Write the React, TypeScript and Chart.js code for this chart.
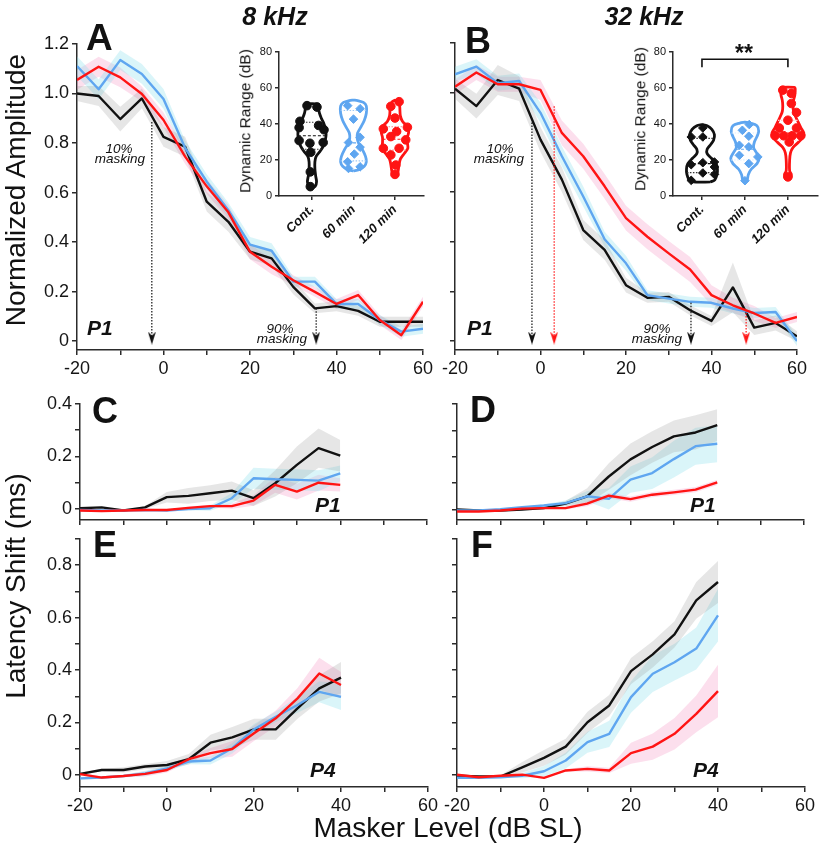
import React, { useEffect, useRef } from 'react';
import { Chart, registerables } from 'chart.js';

Chart.register(...registerables);

// ---------------- data ----------------
const LEVELS_AMP = [-20, -15, -10, -5, 0, 5, 10, 15, 20, 25, 30, 35, 40, 45, 50, 55, 60];
const LEVELS_LAT = [-20, -15, -10, -5, 0, 5, 10, 15, 20, 25, 30, 35, 40];
const X_TICKS = [-20, -10, 0, 10, 20, 30, 40, 50, 60];
const AMP_TICKS = [0, 0.2, 0.4, 0.6, 0.8, 1.0, 1.2];
const LAT_TICKS_SMALL = [0, 0.1, 0.2, 0.3, 0.4];
const LAT_TICKS_BIG = [0, 0.1, 0.2, 0.3, 0.4, 0.5, 0.6, 0.7, 0.8, 0.9];
const DR_TICKS = [0, 20, 40, 60, 80];
const GROUPS = ['Cont.', '60 min', '120 min'];
const GROUP_POS = [1, 2, 3];

// Panel A (8 kHz, P1 amplitude)
const A_CONT = [1.0, 0.99, 0.897, 0.98, 0.825, 0.785, 0.563, 0.482, 0.361, 0.334, 0.219, 0.132, 0.141, 0.122, 0.078, 0.078, 0.078];
const A_60 = [1.111, 1.017, 1.135, 1.079, 0.978, 0.78, 0.644, 0.529, 0.39, 0.365, 0.24, 0.24, 0.15, 0.15, 0.085, 0.038, 0.05];
const A_120 = [1.055, 1.108, 1.065, 0.998, 0.893, 0.745, 0.625, 0.52, 0.361, 0.3, 0.246, 0.199, 0.15, 0.186, 0.085, 0.024, 0.159];
const A_CONT_SEM = [0.03, 0.04, 0.05, 0.04, 0.04, 0.04, 0.04, 0.04, 0.03, 0.03, 0.03, 0.02, 0.02, 0.02, 0.02, 0.02, 0.02];
const A_60_SEM = [0.04, 0.04, 0.04, 0.04, 0.04, 0.03, 0.03, 0.03, 0.03, 0.03, 0.02, 0.02, 0.02, 0.02, 0.02, 0.02, 0.02];
const A_120_SEM = [0.04, 0.04, 0.04, 0.03, 0.03, 0.03, 0.03, 0.03, 0.03, 0.03, 0.02, 0.02, 0.02, 0.02, 0.02, 0.02, 0.02];

// Panel B (32 kHz, P1 amplitude)
const B_CONT = [1.016, 0.946, 1.051, 1.016, 0.811, 0.65, 0.447, 0.367, 0.225, 0.174, 0.178, 0.124, 0.081, 0.216, 0.054, 0.073, 0.019];
const B_60 = [1.074, 1.105, 1.038, 1.047, 0.919, 0.744, 0.582, 0.41, 0.313, 0.185, 0.171, 0.158, 0.154, 0.131, 0.113, 0.117, 0.0];
const B_120 = [1.024, 1.081, 1.034, 1.034, 1.011, 0.838, 0.744, 0.623, 0.495, 0.42, 0.353, 0.288, 0.185, 0.144, 0.111, 0.073, 0.097];
const B_CONT_SEM = [0.04, 0.05, 0.06, 0.05, 0.05, 0.05, 0.04, 0.04, 0.03, 0.02, 0.02, 0.02, 0.02, 0.1, 0.03, 0.03, 0.02];
const B_60_SEM = [0.03, 0.03, 0.03, 0.03, 0.04, 0.04, 0.04, 0.03, 0.03, 0.02, 0.02, 0.02, 0.02, 0.02, 0.02, 0.02, 0.02];
const B_120_SEM = [0.03, 0.03, 0.03, 0.03, 0.04, 0.05, 0.05, 0.05, 0.05, 0.05, 0.05, 0.05, 0.04, 0.03, 0.03, 0.02, 0.02];

// Panel C (8 kHz, P1 latency)
const C_CONT = [0.003, 0.006, -0.006, 0.006, 0.045, 0.05, 0.06, 0.07, 0.041, 0.098, 0.168, 0.232, 0.203];
const C_60 = [-0.004, -0.006, -0.006, -0.004, -0.006, 0, 0.003, 0.041, 0.117, 0.113, 0.111, 0.108, 0.136];
const C_120 = [-0.006, -0.008, -0.006, -0.004, -0.004, 0.004, 0.011, 0.011, 0.032, 0.092, 0.066, 0.1, 0.092];
const C_CONT_SEM = [0, 0, 0, 0.005, 0.02, 0.03, 0.03, 0.035, 0.03, 0.05, 0.07, 0.075, 0.06];
const C_60_SEM = [0, 0, 0, 0, 0, 0.005, 0.01, 0.02, 0.04, 0.04, 0.04, 0.04, 0.03];
const C_120_SEM = [0, 0, 0, 0, 0, 0.005, 0.005, 0.01, 0.02, 0.03, 0.03, 0.03, 0.025];

// Panel D (32 kHz, P1 latency)
const D_CONT = [0, -0.004, -0.004, 0, 0.005, 0.022, 0.05, 0.125, 0.19, 0.237, 0.277, 0.292, 0.32];
const D_60 = [-0.004, -0.004, 0.001, 0.009, 0.015, 0.024, 0.05, 0.04, 0.113, 0.138, 0.191, 0.24, 0.249];
const D_120 = [-0.008, -0.008, -0.004, 0.003, 0.005, 0.005, 0.022, 0.052, 0.039, 0.056, 0.065, 0.075, 0.103];
const D_CONT_SEM = [0, 0, 0, 0, 0.005, 0.01, 0.03, 0.05, 0.06, 0.06, 0.06, 0.065, 0.06];
const D_60_SEM = [0, 0, 0, 0, 0.005, 0.01, 0.02, 0.04, 0.05, 0.06, 0.07, 0.07, 0.07];
const D_120_SEM = [0, 0, 0, 0, 0, 0.005, 0.01, 0.01, 0.01, 0.01, 0.01, 0.01, 0.01];

// Panel E (8 kHz, P4 latency)
const E_CONT = [0.004, 0.019, 0.019, 0.032, 0.038, 0.06, 0.123, 0.143, 0.174, 0.174, 0.254, 0.33, 0.371];
const E_60 = [-0.013, -0.01, -0.004, 0.006, 0.025, 0.051, 0.055, 0.102, 0.174, 0.222, 0.267, 0.317, 0.298];
const E_120 = [0.003, -0.01, -0.004, 0.004, 0.019, 0.06, 0.083, 0.099, 0.159, 0.216, 0.292, 0.387, 0.343];
const E_CONT_SEM = [0.005, 0.005, 0.01, 0.01, 0.015, 0.02, 0.03, 0.04, 0.04, 0.04, 0.04, 0.05, 0.06];
const E_60_SEM = [0.005, 0.005, 0.005, 0.01, 0.01, 0.01, 0.015, 0.02, 0.02, 0.02, 0.03, 0.04, 0.05];
const E_120_SEM = [0.005, 0.005, 0.005, 0.01, 0.01, 0.01, 0.02, 0.03, 0.03, 0.03, 0.04, 0.06, 0.05];

// Panel F (32 kHz, P4 latency)
const F_CONT = [-0.003, -0.006, -0.006, 0.029, 0.065, 0.108, 0.201, 0.265, 0.396, 0.46, 0.536, 0.666, 0.736];
const F_60 = [-0.011, -0.011, -0.009, -0.003, 0.014, 0.055, 0.125, 0.157, 0.297, 0.386, 0.43, 0.482, 0.609];
const F_120 = [0.001, -0.009, -0.003, 0.001, -0.011, 0.017, 0.023, 0.017, 0.083, 0.108, 0.157, 0.233, 0.32];
const F_CONT_SEM = [0, 0, 0.005, 0.02, 0.03, 0.03, 0.04, 0.04, 0.05, 0.05, 0.05, 0.07, 0.08];
const F_60_SEM = [0, 0, 0, 0.01, 0.02, 0.03, 0.04, 0.05, 0.06, 0.07, 0.07, 0.08, 0.1];
const F_120_SEM = [0, 0, 0, 0, 0, 0.005, 0.01, 0.01, 0.04, 0.05, 0.06, 0.07, 0.1];

// masking levels (10% / 90%) marked by arrows: [level, amplitude at start]
const A_MASK_CONT = [[-2.7, 0.885], [35.3, 0.133]];
const B_MASK_CONT = [[-2.0, 0.88], [35.2, 0.154]];
const B_MASK_120 = [[3.2, 0.945], [48.1, 0.125]];

// Dynamic range violins: outline [dB, half-width], points [offset, dB], lines [dB, half-width, kind]
const VA_CONT_OUT = [[4.5, 0], [5.5, 0.08], [8, 0.11], [11, 0.09], [15, 0.07], [19, 0.07], [22, 0.1], [25, 0.2], [28, 0.28], [31, 0.32], [34, 0.34], [37, 0.33], [40, 0.29], [43, 0.23], [46, 0.18], [49, 0.16], [51, 0.16]];
const VA_60_OUT = [[14, 0], [14.6, 0.13], [16.5, 0.26], [19, 0.31], [22, 0.29], [26, 0.21], [29, 0.13], [32, 0.09], [35, 0.1], [38, 0.17], [42, 0.26], [46, 0.31], [50, 0.31], [52, 0.24], [53, 0.1], [53.3, 0]];
const VA_120_OUT = [[11.5, 0], [12.2, 0.06], [14.5, 0.08], [17.5, 0.1], [20.5, 0.13], [23.5, 0.22], [26.5, 0.31], [29.5, 0.3], [32.5, 0.3], [35.5, 0.33], [38.5, 0.3], [41.5, 0.18], [44.5, 0.13], [47.5, 0.12], [50.5, 0.11], [52.5, 0.06], [53.2, 0]];
const VA_CONT_PTS = [[-0.12, 50.2], [0.12, 49.4], [-0.29, 41.5], [-0.31, 38], [0.16, 39.2], [0.29, 36.8], [-0.31, 30.8], [-0.05, 29.3], [0.27, 29.7], [-0.03, 24.3], [-0.04, 13.4], [-0.04, 5.2]];
const VA_60_PTS = [[-0.14, 50.2], [0.16, 48.5], [0, 42.7], [-0.12, 29.7], [0.16, 32.6], [0.16, 27.1], [0.02, 23.3], [-0.14, 19], [0.16, 16.2], [-0.12, 15.3]];
const VA_120_PTS = [[0.1, 52.4], [-0.1, 49.8], [0, 43.3], [-0.28, 37.3], [0.3, 38.2], [0.04, 35.8], [-0.1, 33], [0.26, 31.2], [-0.28, 26.5], [0.1, 26.5], [-0.1, 22.8], [0.02, 17.2], [0, 12]];
const VA_CONT_LINES = [[41, 0.29, 'q'], [33.5, 0.34, 'm'], [26, 0.24, 'q']];
const VA_60_LINES = [[47.5, 0.31, 'q'], [29.5, 0.13, 'm'], [19.5, 0.31, 'q']];
const VA_120_LINES = [[38.5, 0.3, 'q'], [31.5, 0.3, 'm'], [25.5, 0.28, 'q']];

const VB_CONT_OUT = [[7.8, 0.2], [9, 0.3], [12, 0.35], [15, 0.36], [18, 0.33], [21, 0.22], [23.5, 0.12], [26, 0.12], [28.5, 0.2], [31, 0.27], [34, 0.29], [37, 0.23], [39, 0.12], [39.6, 0]];
const VB_60_OUT = [[8, 0], [9, 0.05], [12, 0.08], [15, 0.15], [18, 0.28], [21, 0.33], [24, 0.27], [27, 0.2], [30, 0.22], [33, 0.28], [36, 0.32], [39, 0.28], [40.5, 0.12], [41, 0]];
const VB_120_OUT = [[9, 0], [10, 0.06], [12, 0.08], [14, 0.04], [20, 0.04], [24, 0.06], [27, 0.12], [30, 0.25], [33, 0.36], [35, 0.37], [38, 0.3], [41, 0.24], [44, 0.18], [47, 0.13], [50, 0.12], [53, 0.13], [56, 0.16], [59.5, 0.17], [60.3, 0.15]];
const VB_CONT_PTS = [[0.02, 37.8], [0.02, 32.8], [-0.25, 32.8], [0.02, 18.5], [-0.25, 17.4], [0.29, 18.9], [0.29, 16.1], [0.02, 12.8], [0.29, 12], [-0.25, 8.7]];
const VB_60_PTS = [[0.1, 39.7], [-0.06, 36.5], [0.09, 33.2], [-0.13, 28.2], [0.09, 27.3], [-0.13, 22.6], [0.3, 21.7], [0.09, 18], [0, 8.5]];
const VB_120_PTS = [[-0.12, 58.8], [0.08, 57], [0.08, 51.4], [0.2, 46.4], [0, 42.1], [-0.2, 37.8], [0.2, 37.8], [-0.3, 33.5], [-0.1, 33.5], [0.1, 33.5], [0.3, 33.5], [0.03, 30], [0, 10.6]];
const VB_CONT_LINES = [[32, 0.27, 'q'], [18, 0.33, 'm'], [13, 0.35, 'q']];
const VB_60_LINES = [[35, 0.31, 'q'], [26, 0.21, 'm'], [20, 0.32, 'q']];
const VB_120_LINES = [[42, 0.23, 'q'], [35, 0.37, 'm'], [31, 0.26, 'q']];
const VB_BRACKET = [[1, 71.5], [1, 76], [3, 76], [3, 71.5]];

// ---------------- styling ----------------
const FONT = '"Liberation Sans", Arial, Helvetica, sans-serif';
const AXIS = '#2b2b2b';
const C_BLACK = '#111111';
const C_BLUE = '#5fa6f0';
const C_RED = '#ff1414';
const BAND_GREY = 'rgba(140,140,140,0.22)';
const BAND_CYAN = 'rgba(140,225,235,0.32)';
const BAND_PINK = 'rgba(245,150,195,0.3)';

type Geo = { l: number; t: number; r: number; b: number; yw: number; xh: number; pt: number; pr: number };

function rectOf(g: Geo) {
  return { left: g.l - g.yw, top: g.t - g.pt, width: g.r - g.l + g.yw + g.pr, height: g.b - g.t + g.pt + g.xh };
}

function fmt1(v: number) {
  return Math.abs(v) < 1e-9 ? '0' : v.toFixed(1);
}

// narrow arrowhead glyph used as a point style
function arrowHead(color: string) {
  const c = document.createElement('canvas');
  c.width = 8;
  c.height = 13;
  const ctx = c.getContext('2d') as CanvasRenderingContext2D;
  ctx.fillStyle = color;
  ctx.beginPath();
  ctx.moveTo(0, 0);
  ctx.lineTo(4, 4);
  ctx.lineTo(8, 0);
  ctx.lineTo(4, 13);
  ctx.closePath();
  ctx.fill();
  return c;
}

function axis(ticks: number[], label: (v: number) => string, size: number, fit: (s: any) => void, extra: any = {}) {
  return {
    type: 'linear',
    afterBuildTicks: (s: any) => { s.ticks = ticks.map((v) => ({ value: v })); },
    afterFit: fit,
    ticks: { callback: (v: number) => label(v), font: { family: FONT, size }, color: '#151515', padding: 3, autoSkip: false, maxRotation: 0, minRotation: 0, ...(extra.ticks || {}) },
    grid: { drawOnChartArea: false, drawTicks: true, tickLength: 5, color: AXIS, lineWidth: 1.5, ...(extra.grid || {}) },
    border: { display: true, color: AXIS, width: 1.5 },
    min: extra.min,
    max: extra.max,
  };
}

type Series = { mean: number[]; sem: number[]; color: string; band: string };

function mainConfig(g: Geo, xs: number[], series: Series[], yMin: number, yMax: number, yTicks: number[], showY: boolean, showX: boolean, arrows: { pts: number[][]; color: string }[]) {
  const datasets: any[] = [];
  series.forEach((s) => {
    datasets.push({ data: xs.map((x, i) => ({ x, y: s.mean[i] + s.sem[i] })), borderWidth: 0, borderColor: 'transparent', pointRadius: 0, backgroundColor: s.band, fill: '+1', order: 10 });
    datasets.push({ data: xs.map((x, i) => ({ x, y: s.mean[i] - s.sem[i] })), borderWidth: 0, borderColor: 'transparent', pointRadius: 0, fill: false, order: 10 });
  });
  series.forEach((s, k) => {
    datasets.push({ data: xs.map((x, i) => ({ x, y: s.mean[i] })), borderColor: s.color, borderWidth: 2.4, pointRadius: 0, fill: false, order: 4 - k, borderJoinStyle: 'round' });
  });
  arrows.forEach((a) => {
    const head = arrowHead(a.color);
    a.pts.forEach(([lvl, top]) => {
      datasets.push({
        data: [{ x: lvl, y: top }, { x: lvl, y: 0.012 }],
        borderColor: a.color, borderWidth: 1.2, borderDash: [1.5, 1.5], fill: false,
        pointRadius: [0, 6], pointStyle: head,
        order: 0,
      });
    });
  });
  return {
    type: 'line',
    data: { datasets },
    options: {
      responsive: false, animation: false, devicePixelRatio: 1,
      layout: { padding: { left: 0, top: g.pt, right: g.pr, bottom: 0 }, autoPadding: false },
      plugins: { legend: { display: false }, tooltip: { enabled: false }, filler: { drawTime: 'beforeDatasetsDraw' } },
      elements: { line: { tension: 0 } },
      scales: {
        x: axis(X_TICKS, (v) => (showX && v % 20 === 0 ? String(v) : ''), 18, (s: any) => { s.height = g.xh; }, { min: -20, max: 60 }),
        y: axis(yTicks, (v) => (showY && Math.round(v * 10) % 2 === 0 ? fmt1(v) : ''), 18, (s: any) => { s.width = g.yw; }, { min: yMin, max: yMax }),
      },
    },
  };
}

type Violin = { out: number[][]; pts: number[][]; lines: any[][]; color: string; lineColor: string; style: string };

function violinConfig(g: Geo, xMin: number, xMax: number, violins: Violin[], bracket: number[][] | null) {
  const datasets: any[] = [];
  violins.forEach((v, i) => {
    const c = GROUP_POS[i];
    const right = v.out.map(([y, w]) => ({ x: c + w, y }));
    const left = v.out.slice().reverse().map(([y, w]) => ({ x: c - w, y }));
    const loop = [...right, ...left, right[0]];
    datasets.push({ data: loop, borderColor: v.color, borderWidth: 2.8, tension: 0.3, pointRadius: 0, fill: false, order: 3 });
    v.lines.forEach(([y, w, kind]) => {
      datasets.push({ data: [{ x: c - w, y }, { x: c + w, y }], borderColor: kind === 'm' ? v.color : v.lineColor, borderWidth: 1.1, borderDash: kind === 'm' ? [3, 2] : [1.5, 1.5], pointRadius: 0, fill: false, order: 2 });
    });
    datasets.push({ data: v.pts.map(([dx, y]) => ({ x: c + dx, y })), showLine: false, pointRadius: 4.3, pointStyle: v.style, pointBackgroundColor: v.color, pointBorderColor: v.color, pointBorderWidth: 1, order: 1 });
  });
  if (bracket) {
    datasets.push({ data: bracket.map(([x, y]) => ({ x, y })), borderColor: '#111', borderWidth: 1.6, pointRadius: 0, fill: false, order: 0 });
  }
  return {
    type: 'line',
    data: { datasets },
    options: {
      responsive: false, animation: false, devicePixelRatio: 1,
      layout: { padding: { left: 0, top: g.pt, right: g.pr, bottom: 0 }, autoPadding: false },
      plugins: { legend: { display: false }, tooltip: { enabled: false } },
      elements: { line: { tension: 0 } },
      scales: {
        x: axis(GROUP_POS, (v) => GROUPS[GROUP_POS.indexOf(v)] || '', 13, (s: any) => { s.height = g.xh; }, {
          min: xMin, max: xMax,
          ticks: { font: { family: FONT, size: 13, weight: 'bold', style: 'italic' }, maxRotation: 45, minRotation: 45, padding: 2, color: '#111' },
          grid: { tickLength: 4 },
        }),
        y: axis(DR_TICKS, (v) => String(v), 11, (s: any) => { s.width = g.yw; }, { min: 0, max: 80, grid: { tickLength: 4 }, ticks: { padding: 3 } }),
      },
    },
  };
}

// ---------------- geometry ----------------
const G_A: Geo = { l: 77, t: 44, r: 423, b: 350, yw: 77, xh: 32, pt: 14, pr: 16 };
const G_B: Geo = { l: 455, t: 43, r: 797, b: 350, yw: 20, xh: 32, pt: 14, pr: 16 };
const G_C: Geo = { l: 80, t: 404, r: 427, b: 520, yw: 80, xh: 20, pt: 14, pr: 16 };
const G_D: Geo = { l: 457, t: 404, r: 804, b: 520, yw: 20, xh: 20, pt: 14, pr: 14 };
const G_E: Geo = { l: 80, t: 539, r: 428, b: 787, yw: 80, xh: 32, pt: 14, pr: 16 };
const G_F: Geo = { l: 457, t: 539, r: 805, b: 787, yw: 20, xh: 32, pt: 14, pr: 13 };
const G_IA: Geo = { l: 279, t: 52, r: 424, b: 196, yw: 32, xh: 58, pt: 10, pr: 8 };
const G_IB: Geo = { l: 673, t: 52, r: 818, b: 196, yw: 32, xh: 58, pt: 10, pr: 1 };

function ChartCanvas({ g, build }: { g: Geo; build: () => any }) {
  const ref = useRef<HTMLCanvasElement>(null);
  const r = rectOf(g);
  useEffect(() => {
    const chart = new Chart(ref.current as HTMLCanvasElement, build());
    return () => chart.destroy();
  }, []);
  return (
    <canvas
      ref={ref}
      width={r.width}
      height={r.height}
      style={{ position: 'absolute', left: r.left, top: r.top, width: r.width, height: r.height }}
    />
  );
}

function Txt({ x, y, fs, bold = false, italic = false, center = false, children }: any) {
  return (
    <div
      style={{
        position: 'absolute', left: x, top: y - 0.8465 * fs, fontSize: fs, lineHeight: 1,
        fontWeight: bold ? 'bold' : 'normal', fontStyle: italic ? 'italic' : 'normal',
        whiteSpace: 'nowrap', transform: center ? 'translateX(-50%)' : undefined, color: '#111',
      }}
    >
      {children}
    </div>
  );
}

function VTxt({ cx, cy, fs, children }: any) {
  return (
    <div
      style={{
        position: 'absolute', left: cx, top: cy, fontSize: fs, lineHeight: 1, whiteSpace: 'nowrap',
        transform: 'translate(-50%,-50%) rotate(-90deg)', color: '#111',
      }}
    >
      {children}
    </div>
  );
}

const S = (mean: number[], sem: number[], color: string, band: string): Series => ({ mean, sem, color, band });

export default function App() {
  const bA = () => mainConfig(G_A, LEVELS_AMP, [S(A_CONT, A_CONT_SEM, C_BLACK, BAND_GREY), S(A_60, A_60_SEM, C_BLUE, BAND_CYAN), S(A_120, A_120_SEM, C_RED, BAND_PINK)], -0.036, 1.2, AMP_TICKS, true, true, [{ pts: A_MASK_CONT, color: C_BLACK }]);
  const bB = () => mainConfig(G_B, LEVELS_AMP, [S(B_CONT, B_CONT_SEM, C_BLACK, BAND_GREY), S(B_60, B_60_SEM, C_BLUE, BAND_CYAN), S(B_120, B_120_SEM, C_RED, BAND_PINK)], -0.036, 1.2, AMP_TICKS, false, true, [{ pts: B_MASK_CONT, color: C_BLACK }, { pts: B_MASK_120, color: C_RED }]);
  const bC = () => mainConfig(G_C, LEVELS_LAT, [S(C_CONT, C_CONT_SEM, C_BLACK, BAND_GREY), S(C_60, C_60_SEM, C_BLUE, BAND_CYAN), S(C_120, C_120_SEM, C_RED, BAND_PINK)], -0.042, 0.4, LAT_TICKS_SMALL, true, false, []);
  const bD = () => mainConfig(G_D, LEVELS_LAT, [S(D_CONT, D_CONT_SEM, C_BLACK, BAND_GREY), S(D_60, D_60_SEM, C_BLUE, BAND_CYAN), S(D_120, D_120_SEM, C_RED, BAND_PINK)], -0.04, 0.4, LAT_TICKS_SMALL, false, false, []);
  const bE = () => mainConfig(G_E, LEVELS_LAT, [S(E_CONT, E_CONT_SEM, C_BLACK, BAND_GREY), S(E_60, E_60_SEM, C_BLUE, BAND_CYAN), S(E_120, E_120_SEM, C_RED, BAND_PINK)], -0.046, 0.9, LAT_TICKS_BIG, true, true, []);
  const bF = () => mainConfig(G_F, LEVELS_LAT, [S(F_CONT, F_CONT_SEM, C_BLACK, BAND_GREY), S(F_60, F_60_SEM, C_BLUE, BAND_CYAN), S(F_120, F_120_SEM, C_RED, BAND_PINK)], -0.046, 0.9, LAT_TICKS_BIG, false, true, []);
  const bIA = () => violinConfig(G_IA, 0.205, 3.7, [
    { out: VA_CONT_OUT, pts: VA_CONT_PTS, lines: VA_CONT_LINES, color: C_BLACK, lineColor: '#333', style: 'circle' },
    { out: VA_60_OUT, pts: VA_60_PTS, lines: VA_60_LINES, color: C_BLUE, lineColor: '#9cc8f5', style: 'rectRot' },
    { out: VA_120_OUT, pts: VA_120_PTS, lines: VA_120_LINES, color: C_RED, lineColor: '#ff8a8a', style: 'circle' },
  ], null);
  const bIB = () => violinConfig(G_IB, 0.326, 3.7, [
    { out: VB_CONT_OUT, pts: VB_CONT_PTS, lines: VB_CONT_LINES, color: C_BLACK, lineColor: '#333', style: 'rectRot' },
    { out: VB_60_OUT, pts: VB_60_PTS, lines: VB_60_LINES, color: C_BLUE, lineColor: '#d8ecff', style: 'rectRot' },
    { out: VB_120_OUT, pts: VB_120_PTS, lines: VB_120_LINES, color: C_RED, lineColor: '#ffd0d0', style: 'circle' },
  ], VB_BRACKET);

  return (
    <div style={{ position: 'absolute', left: 0, top: 0, width: 819, height: 849, overflow: 'hidden', background: '#fff', fontFamily: FONT }}>
      <ChartCanvas g={G_A} build={bA} />
      <ChartCanvas g={G_B} build={bB} />
      <ChartCanvas g={G_C} build={bC} />
      <ChartCanvas g={G_D} build={bD} />
      <ChartCanvas g={G_E} build={bE} />
      <ChartCanvas g={G_F} build={bF} />
      <ChartCanvas g={G_IA} build={bIA} />
      <ChartCanvas g={G_IB} build={bIB} />

      <Txt x={275} y={25} fs={25} bold italic center>8 kHz</Txt>
      <Txt x={644} y={25} fs={25} bold italic center>32 kHz</Txt>

      <Txt x={86} y={50} fs={37} bold>A</Txt>
      <Txt x={465} y={53} fs={36} bold>B</Txt>
      <Txt x={92} y={423} fs={36} bold>C</Txt>
      <Txt x={470} y={422} fs={36} bold>D</Txt>
      <Txt x={93} y={557} fs={36} bold>E</Txt>
      <Txt x={471} y={557} fs={36} bold>F</Txt>

      <Txt x={87} y={335} fs={21} bold italic>P1</Txt>
      <Txt x={467} y={335} fs={21} bold italic>P1</Txt>
      <Txt x={315} y={512} fs={21} bold italic>P1</Txt>
      <Txt x={690} y={512} fs={21} bold italic>P1</Txt>
      <Txt x={310} y={777} fs={21} bold italic>P4</Txt>
      <Txt x={693} y={777} fs={21} bold italic>P4</Txt>

      <Txt x={119} y={153} fs={13.5} italic center>10%</Txt>
      <Txt x={120} y={163} fs={13.5} italic center>masking</Txt>
      <Txt x={280} y={333} fs={13.5} italic center>90%</Txt>
      <Txt x={282} y={343} fs={13.5} italic center>masking</Txt>
      <Txt x={500} y={153} fs={13.5} italic center>10%</Txt>
      <Txt x={499} y={163} fs={13.5} italic center>masking</Txt>
      <Txt x={657} y={333} fs={13.5} italic center>90%</Txt>
      <Txt x={657} y={343} fs={13.5} italic center>masking</Txt>

      <Txt x={744} y={61.5} fs={23} bold center>**</Txt>

      <VTxt cx={16} cy={190} fs={28}>Normalized Amplitude</VTxt>
      <VTxt cx={16} cy={586} fs={28}>Latency Shift (ms)</VTxt>
      <VTxt cx={245} cy={121} fs={15.5}>Dynamic Range (dB)</VTxt>
      <VTxt cx={640} cy={119} fs={15.5}>Dynamic Range (dB)</VTxt>
      <Txt x={448} y={838} fs={28} center>Masker Level (dB SL)</Txt>
    </div>
  );
}
